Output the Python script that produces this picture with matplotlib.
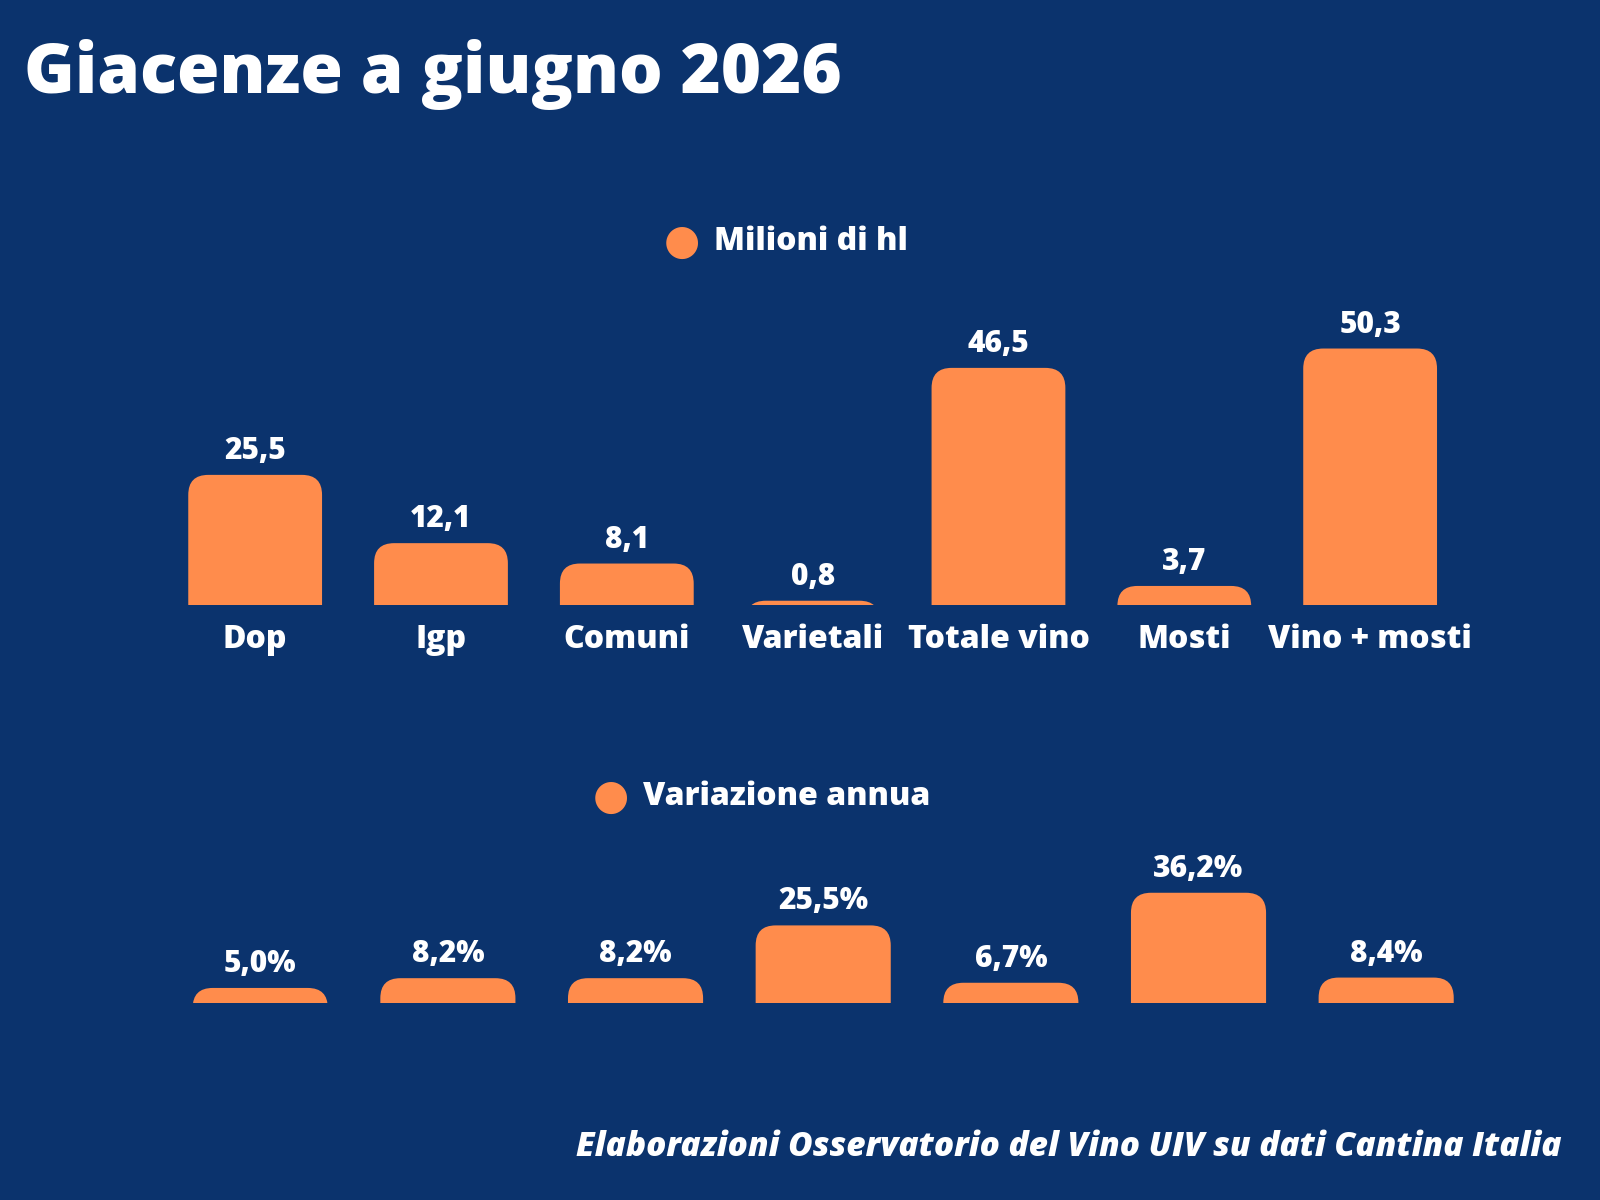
import matplotlib.pyplot as plt
from matplotlib.patches import FancyBboxPatch

categories = ["Dop", "Igp", "Comuni", "Varietali", "Totale vino", "Mosti", "Vino + mosti"]
volumes = [25.5, 12.1, 8.1, 0.8, 46.5, 3.7, 50.3]
changes = [5.0, 8.2, 8.2, 25.5, 6.7, 36.2, 8.4]

BG = "#0B336D"
ORANGE = "#FF8C4C"
FONT = "Open Sans"
WT = 800
W, H = 1600, 1200

fig = plt.figure(figsize=(16, 12), dpi=100, facecolor=BG)


def rounded_bars(ax, values, rect, ymax, fmt, r=20):
    ax.set_xlim(-0.5, len(values) - 0.5)
    ax.set_ylim(0, ymax)
    ax.axis("off")
    pxx = rect[2] * W / len(values)
    pxy = rect[3] * H / ymax
    bw = 0.72
    for i, v in enumerate(values):
        ry = r / pxy
        p = FancyBboxPatch((i - bw / 2, -ry), bw, v + ry,
                           boxstyle=f"round,pad=0,rounding_size={r / pxx}",
                           mutation_aspect=pxx / pxy, fc=ORANGE, ec="none")
        ax.add_patch(p)
        ax.text(i, v + 9 / pxy, fmt(v), ha="center", va="bottom", color="white",
                fontsize=21.5, fontweight=WT, family=FONT)


rect1 = [0.1014, 0.496, 0.813, 0.304]
ax1 = fig.add_axes(rect1)
ax1.patch.set_alpha(0)
rounded_bars(ax1, volumes, rect1, 71.6, lambda v: f"{v:.1f}".replace(".", ","))
for i, c in enumerate(categories):
    ax1.text(i, -3.7, c, ha="center", va="top", color="white",
             fontsize=23, fontweight=WT, family=FONT)

rect2 = [0.104, 0.164, 0.821, 0.15]
ax2 = fig.add_axes(rect2)
ax2.patch.set_alpha(0)
rounded_bars(ax2, changes, rect2, 59, lambda v: f"{v:.1f}%".replace(".", ","))

fig.text(0.015, 0.938, "Giacenze a giugno 2026", color="white", fontsize=49.5,
         fontweight=WT, family=FONT, va="center")

for x, y, lbl in [(0.426, 0.798, "Milioni di hl"), (0.382, 0.336, "Variazione annua")]:
    fig.text(x, y, "\u25CF", color=ORANGE, fontsize=30, va="center", ha="center", family="DejaVu Sans")
    fig.text(x + 0.02, y, lbl, color="white", fontsize=23, fontweight=WT, family=FONT, va="center")

fig.text(0.976, 0.044, "Elaborazioni Osservatorio del Vino UIV su dati Cantina Italia",
         color="white", fontsize=24, fontweight=WT, style="italic", family=FONT,
         ha="right", va="center")

fig.savefig("out.png", dpi=100, facecolor=BG)
